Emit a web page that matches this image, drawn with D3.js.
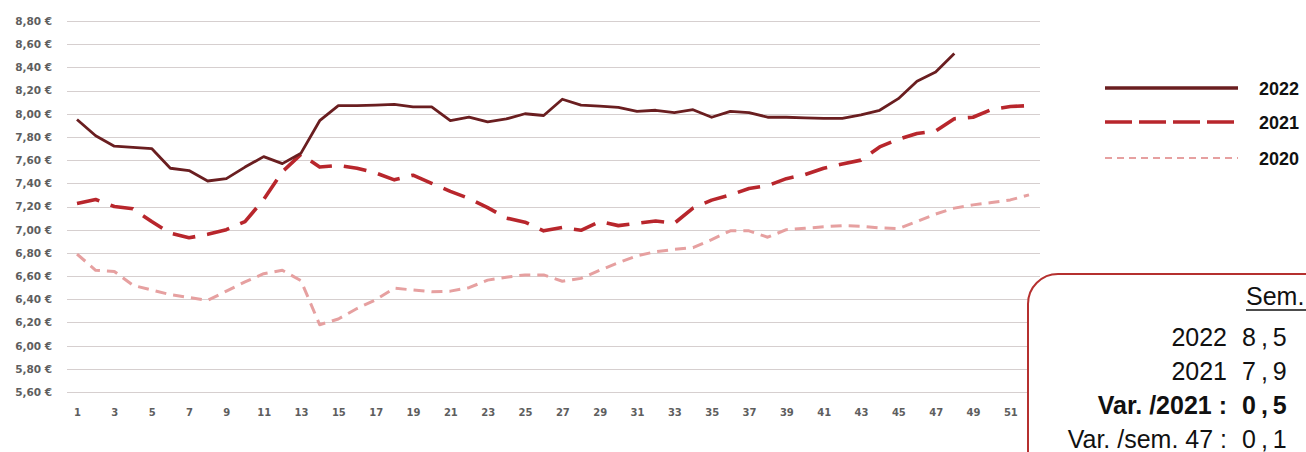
<!DOCTYPE html>
<html>
<head>
<meta charset="utf-8">
<script src="https://cdn.jsdelivr.net/npm/d3@7"></script>
<style>
  html, body { margin: 0; padding: 0; background: #fff; }
  #chart { width: 1306px; height: 452px; overflow: hidden; }
</style>
</head>
<body>
<div id="chart"></div>
<script>
// weeks (categories)
var weeks = [1, 2, 3, 4, 5, 6, 7, 8, 9, 10, 11, 12, 13, 14, 15, 16, 17, 18, 19, 20,
    21, 22, 23, 24, 25, 26, 27, 28, 29, 30, 31, 32, 33, 34, 35, 36, 37, 38, 39, 40,
    41, 42, 43, 44, 45, 46, 47, 48, 49, 50, 51, 52];

// price per week, € (2022 stops at week 48)
var values2022 = [7.95, 7.81, 7.72, 7.71, 7.70, 7.53, 7.51, 7.42, 7.44, 7.54,
    7.63, 7.57, 7.66, 7.94, 8.07, 8.07, 8.075, 8.08, 8.06, 8.06,
    7.94, 7.97, 7.93, 7.955, 8.00, 7.985, 8.125, 8.075, 8.065, 8.055,
    8.02, 8.03, 8.01, 8.035, 7.97, 8.02, 8.01, 7.97, 7.97, 7.965,
    7.96, 7.96, 7.99, 8.03, 8.13, 8.28, 8.36, 8.52];

var values2021 = [7.225, 7.26, 7.20, 7.18, 7.07, 6.97, 6.93, 6.96, 7.00, 7.07,
    7.26, 7.50, 7.65, 7.54, 7.555, 7.53, 7.49, 7.43, 7.47, 7.40,
    7.33, 7.27, 7.19, 7.10, 7.065, 6.99, 7.02, 6.995, 7.07, 7.035,
    7.055, 7.075, 7.055, 7.186, 7.255, 7.30, 7.355, 7.38, 7.44, 7.475,
    7.53, 7.566, 7.60, 7.714, 7.78, 7.83, 7.85, 7.957, 7.97, 8.037,
    8.063, 8.07];

var values2020 = [6.79, 6.65, 6.64, 6.52, 6.48, 6.44, 6.415, 6.39, 6.47, 6.55,
    6.62, 6.65, 6.56, 6.18, 6.23, 6.32, 6.395, 6.495, 6.48, 6.465,
    6.47, 6.50, 6.565, 6.59, 6.61, 6.61, 6.555, 6.58, 6.65, 6.715,
    6.775, 6.81, 6.83, 6.845, 6.915, 6.99, 6.99, 6.935, 7.00, 7.012,
    7.025, 7.035, 7.03, 7.015, 7.01, 7.07, 7.135, 7.186, 7.214, 7.234,
    7.257, 7.30];

// y ticks and visible x tick labels
var yTicks = [5.6, 5.8, 6.0, 6.2, 6.4, 6.6, 6.8, 7.0, 7.2, 7.4, 7.6, 7.8, 8.0, 8.2, 8.4, 8.6, 8.8];
var xTickLabels = [1, 3, 5, 7, 9, 11, 13, 15, 17, 19, 21, 23, 25, 27, 29, 31, 33, 35, 37, 39, 41, 43, 45, 47, 49, 51];

// summary box text (cut by the right edge in the original)
var boxHeader = "Sem.";
var boxLabels = ["2022", "2021", "Var. /2021 :", "Var. /sem. 47 :"];
var boxValues = ["8,5", "7,9", "0,5", "0,1"];

var seriesNames = ["2022", "2021", "2020"];

var width = 1306,
    height = 452;

// french style number format for the axis
var fr = d3.formatLocale({decimal: ",", thousands: " ", grouping: [3], currency: ["", " €"]});
var fmtEuro = fr.format("$.2f");

var svg = d3.select("#chart")
    .append("svg")
    .attr("width", width)
    .attr("height", height)
    .style("font-family", "'Liberation Sans', Arial, sans-serif");

var x = d3.scalePoint()
    .domain(weeks)
    .range([77, 1029]);

var y = d3.scaleLinear()
    .domain([5.6, 8.8])
    .range([392, 21]);

// horizontal gridlines
svg.append("g")
    .selectAll("line")
    .data(yTicks).enter()
    .append("line")
    .attr("x1", 67)
    .attr("x2", 1040)
    .attr("y1", function (d) { return Math.round(y(d)) + 0.5; })
    .attr("y2", function (d) { return Math.round(y(d)) + 0.5; })
    .attr("stroke", "#d6cfcf")
    .attr("stroke-width", 1.2);

// y axis labels (no domain line)
var yAxis = d3.axisLeft(y)
    .tickValues(yTicks)
    .tickSize(0)
    .tickPadding(0)
    .tickFormat(fmtEuro);

svg.append("g")
    .attr("transform", "translate(52,0)")
    .call(yAxis)
    .call(function (g) { g.select(".domain").remove(); })
    .selectAll("text")
    .attr("font-family", "'DejaVu Sans', sans-serif")
    .attr("font-size", 10.5)
    .attr("font-weight", "bold")
    .attr("fill", "#5e5e5e");

// x axis labels, every other week
var xAxis = d3.axisBottom(x)
    .tickValues(xTickLabels)
    .tickSize(0)
    .tickPadding(0);

svg.append("g")
    .attr("transform", "translate(0,409)")
    .call(xAxis)
    .call(function (g) { g.select(".domain").remove(); })
    .selectAll("text")
    .attr("font-family", "'DejaVu Sans', sans-serif")
    .attr("font-size", 10)
    .attr("font-weight", "bold")
    .attr("fill", "#5e5e5e");

// series styles
var styles = {
    "2022": {color: "#6a1e20", width: 2.8, dash: null, legendDash: null},
    "2021": {color: "#b8262c", width: 3.6, dash: "23,12", legendDash: "27,7"},
    "2020": {color: "#e6a0a0", width: 3, dash: "11,7", legendDash: "7,5"}
};

var seriesData = {
    "2022": values2022,
    "2021": values2021,
    "2020": values2020
};

var line = d3.line()
    .x(function (d) { return x(d.week); })
    .y(function (d) { return y(d.value); });

// draw 2020 first so 2022 ends up on top
["2020", "2021", "2022"].forEach(function (name) {
    var pts = seriesData[name].map(function (v, i) { return {week: weeks[i], value: v}; });
    var st = styles[name];
    svg.append("path")
        .datum(pts)
        .attr("d", line)
        .attr("fill", "none")
        .attr("stroke", st.color)
        .attr("stroke-width", st.width)
        .attr("stroke-linejoin", "round")
        .attr("stroke-dasharray", st.dash);
});

// legend
var legendY = [88, 122, 158];
var legend = svg.append("g");
seriesNames.forEach(function (name, i) {
    var st = styles[name];
    legend.append("line")
        .attr("x1", 1105)
        .attr("x2", 1238)
        .attr("y1", legendY[i])
        .attr("y2", legendY[i])
        .attr("stroke", st.color)
        .attr("stroke-width", name == "2020" ? 2.2 : 3.4)
        .attr("stroke-dasharray", st.legendDash);
    legend.append("text")
        .attr("x", 1259)
        .attr("y", legendY[i] + 7)
        .attr("font-size", 18)
        .attr("font-weight", "bold")
        .attr("fill", "#111")
        .text(name);
});

// summary box (runs off the right/bottom edge)
svg.append("rect")
    .attr("x", 1028)
    .attr("y", 274)
    .attr("width", 320)
    .attr("height", 220)
    .attr("rx", 30)
    .attr("fill", "#fff")
    .attr("stroke", "#b5302f")
    .attr("stroke-width", 2);

svg.append("text")
    .attr("x", 1246)
    .attr("y", 305)
    .attr("font-size", 25)
    .attr("fill", "#111")
    .text(boxHeader);

svg.append("line")
    .attr("x1", 1246)
    .attr("x2", 1306)
    .attr("y1", 310)
    .attr("y2", 310)
    .attr("stroke", "#111")
    .attr("stroke-width", 1.6);

var rowY = [346, 380, 414, 448];
boxLabels.forEach(function (lab, i) {
    var bold = (i == 2);
    svg.append("text")
        .attr("x", 1227)
        .attr("y", rowY[i])
        .attr("text-anchor", "end")
        .attr("font-size", 25)
        .attr("font-weight", bold ? "bold" : "normal")
        .attr("fill", "#111")
        .text(lab);
    svg.append("text")
        .attr("x", 1242)
        .attr("y", rowY[i])
        .attr("font-size", 25)
        .attr("font-weight", bold ? "bold" : "normal")
        .attr("letter-spacing", 5)
        .attr("fill", "#111")
        .text(boxValues[i]);
});
</script>
</body>
</html>
